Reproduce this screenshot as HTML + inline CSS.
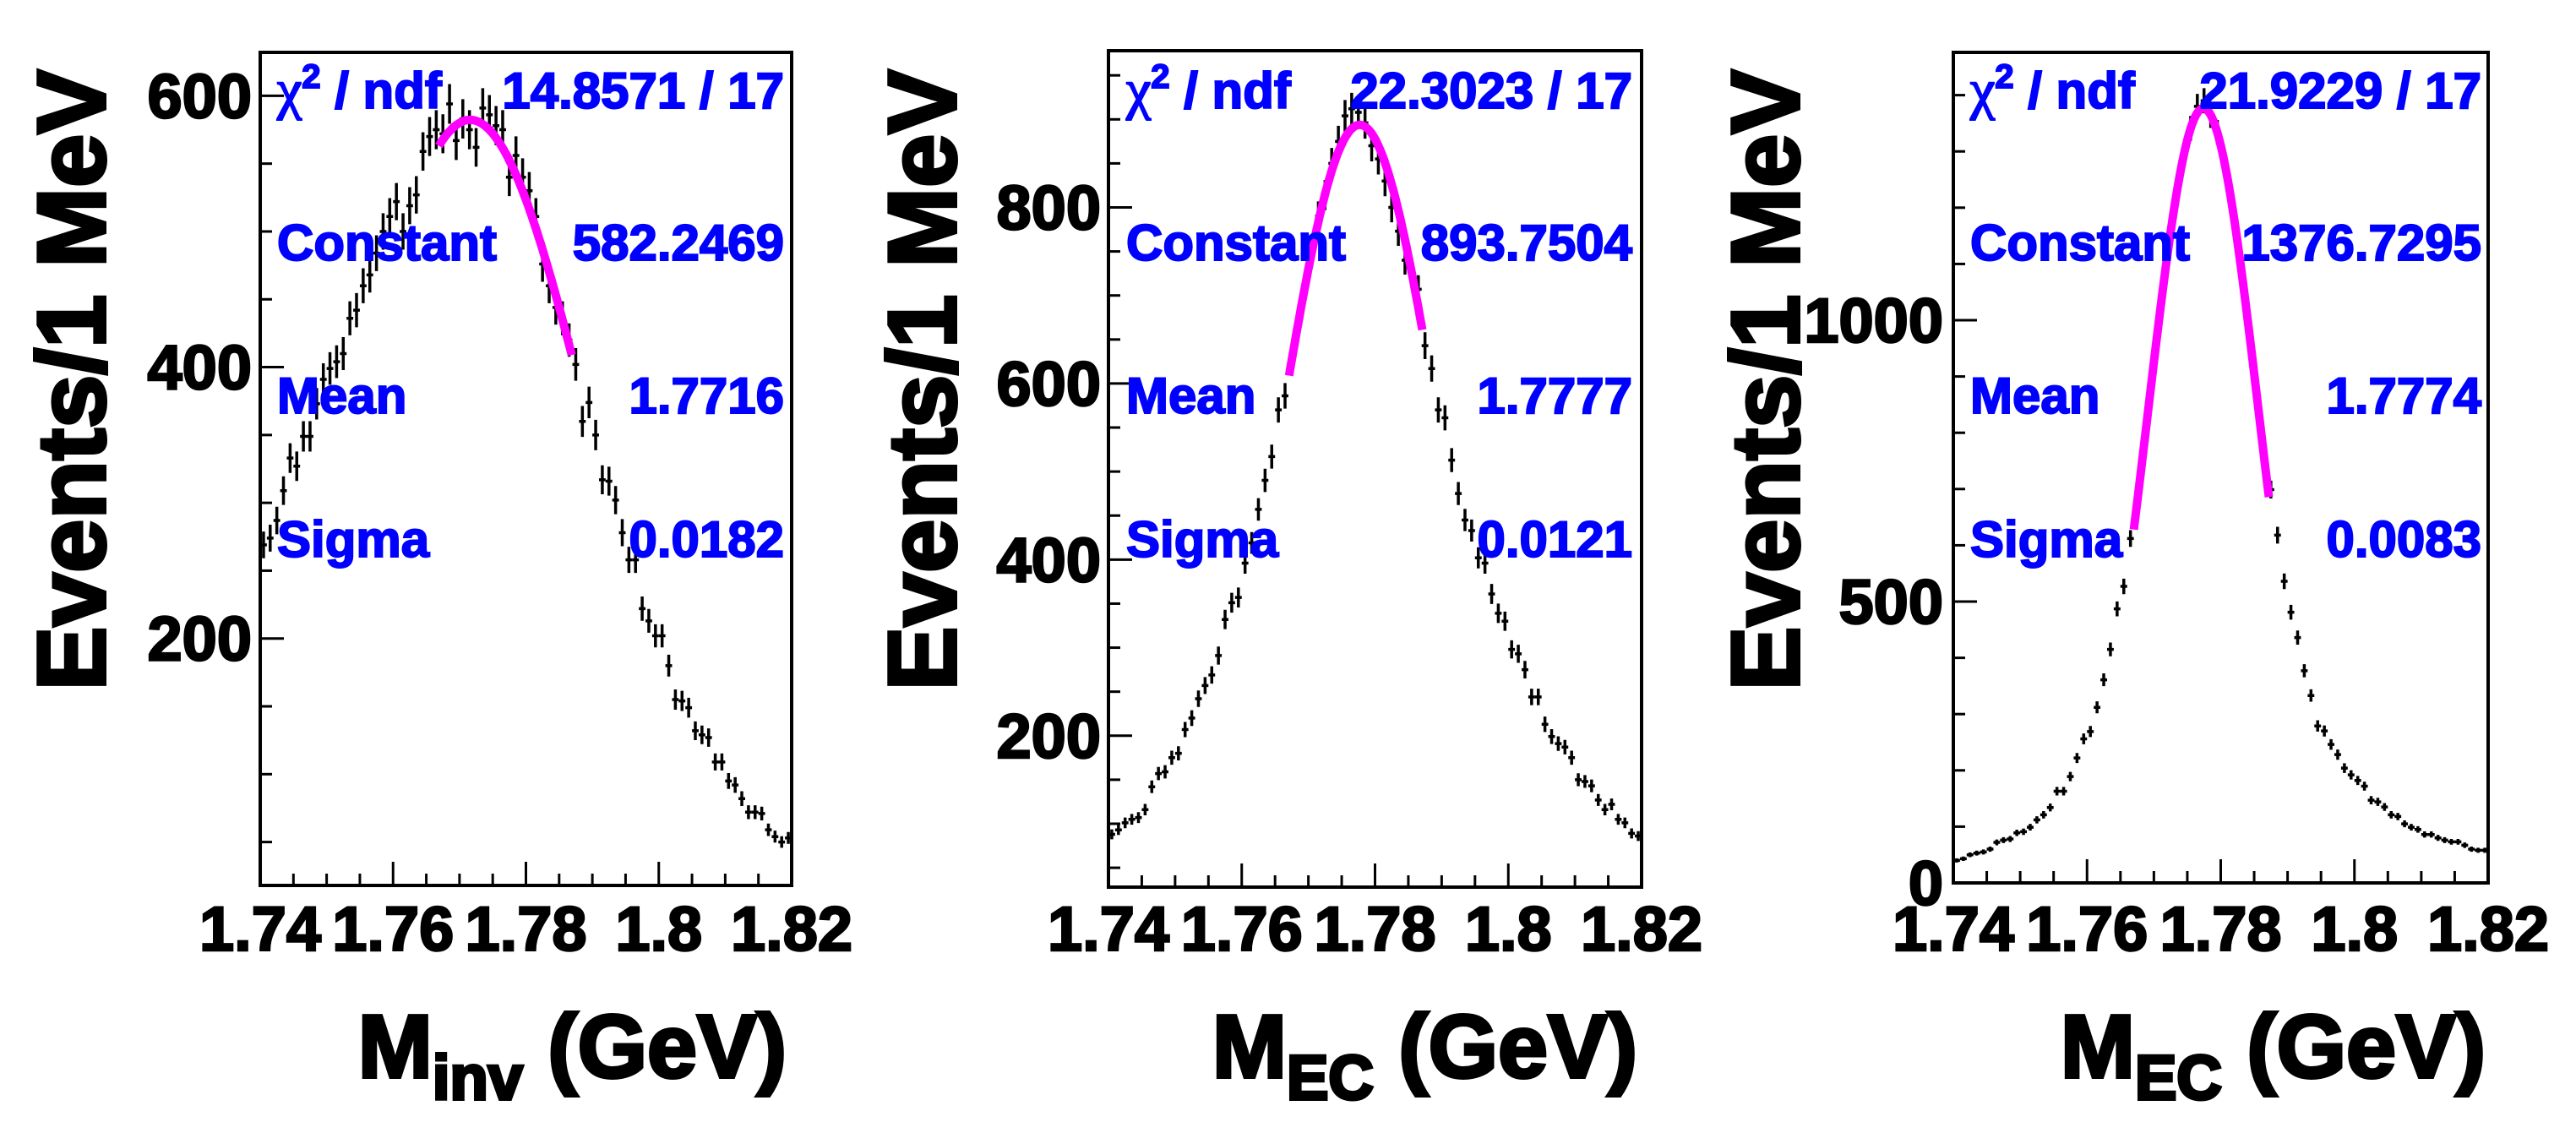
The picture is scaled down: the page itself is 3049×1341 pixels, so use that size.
<!DOCTYPE html>
<html><head><meta charset="utf-8"><style>
html,body{margin:0;padding:0;background:#fff;}
svg{display:block;}
text{font-family:"Liberation Sans",Arial,sans-serif;font-weight:bold;}
</style></head><body>
<svg id="fig" width="3049" height="1341" viewBox="0 0 3049 1341" xmlns="http://www.w3.org/2000/svg"></svg>
<script>
// Shared binning: 80 bins of 1 MeV from 1.74 to 1.82 GeV
const binLow = 1.74;
const binWidth = 0.001;
const xTicks = [1.74, 1.76, 1.78, 1.8, 1.82];
const xTickLabels = ["1.74", "1.76", "1.78", "1.8", "1.82"];

// Panel 1 (M_inv)
const counts1 = [269,274,287,309,333,327,349,349,373,391, 399,404,410,436,442,460,468,484,500,511,
  522,500,519,527,559,570,575,572,594,567, 583,575,562,591,586,578,575,540,556,540,
  530,511,476,460,444,436,420,402,360,374, 350,317,316,302,278,258,258,222,213,202,
  202,180,155,154,149,132,129,127,109,109, 95,92,82,72,72,71,59,54,50,53];
const fit1 = [582.2469, 1.7716, 0.0182];
const fitRange1 = [1.7669, 1.7869];
const yTicks1 = [200, 400, 600];
const stats1 = ["14.8571 / 17", "582.2469", "1.7716", "0.0182"];

// Panel 2 (M_EC)
const counts2 = [88,93,101,105,107,116,142,157,159,175, 180,207,220,242,257,269,291,332,351,357,
  396,419,457,490,517,570,586,627,669,710, 749,790,814,850,875,904,912,908,896,870,
  855,830,800,773,740,726,707,643,617,570, 561,513,475,445,433,402,396,361,339,330,
  298,293,275,244,244,213,199,191,187,175, 150,148,143,127,116,122,105,101,89,86];
const fit2 = [893.7504, 1.7777, 0.0121];
const fitRange2 = [1.7671, 1.7871];
const yTicks2 = [200, 400, 600, 800];
const stats2 = ["22.3023 / 17", "893.7504", "1.7777", "0.0121"];

// Panel 3 (M_EC)
const counts3 = [40,43,50,53,55,60,72,76,78,89, 91,99,112,121,134,163,163,189,222,256,
  269,312,361,415,487,527,612,676,775,875, 975,1069,1157,1233,1295,1341,1380,1390,1364,1334,
  1284,1219,1140,1051,955,855,755,699,618,536, 481,436,377,333,279,270,246,228,204,192,
  182,172,147,144,135,121,118,105,99,95, 86,86,80,76,73,73,67,60,58,58];
const fit3 = [1376.7295, 1.7774, 0.0083];
const fitRange3 = [1.767, 1.7872];
const yTicks3 = [0, 500, 1000];
const stats3 = ["21.9229 / 17", "1376.7295", "1.7774", "0.0083"];

const NS = "http://www.w3.org/2000/svg";
const svg = document.getElementById("fig");
function mk(tag, attrs, parent) {
  const e = document.createElementNS(NS, tag);
  for (const k in attrs) e.setAttribute(k, attrs[k]);
  (parent || svg).appendChild(e);
  return e;
}

const panels = [
  {counts: counts1, fit: fit1, fr: fitRange1, yt: yTicks1, stats: stats1, minor: 50,
   L:308, R:937, T:62, B:1048, ymin:18, ymax:632, ylabR:298, ytitleX:124, statL:328, statR:928,
   xtitleR:931, sub:"inv"},
  {counts: counts2, fit: fit2, fr: fitRange2, yt: yTicks2, stats: stats2, minor: 50,
   L:1312, R:1943, T:60, B:1050, ymin:28, ymax:978, ylabR:1303, ytitleX:1131, statL:1333, statR:1932,
   xtitleR:1938, sub:"EC"},
  {counts: counts3, fit: fit3, fr: fitRange3, yt: yTicks3, stats: stats3, minor: 100,
   L:2312, R:2945, T:62, B:1045, ymin:0, ymax:1476, ylabR:2300, ytitleX:2129, statL:2332, statR:2937,
   xtitleR:2942, sub:"EC"}
];

panels.forEach((p, pi) => {
  const g = mk("g", {});
  
  
  const sx = v => p.L + (v - binLow) / (binWidth * 80) * (p.R - p.L);
  const sy = v => p.B - (v - p.ymin) / (p.ymax - p.ymin) * (p.B - p.T);

  const frame = mk("rect", {x:p.L, y:p.T, width:p.R-p.L, height:p.B-p.T, fill:"none", stroke:"#000", "stroke-width":4}, g);
  
  

  for (let k = 0; k <= 16; k++) {
    const v = binLow + k * 0.005;
    const x = sx(v);
    const len = (k % 4 === 0) ? 28 : 14;
    const t = mk("line", {x1:x, x2:x, y1:p.B, y2:p.B-len, stroke:"#000", "stroke-width":3}, g);
    
    
  }
  xTicks.forEach((v, i) => {
    const t = mk("text", {x:sx(v), y:1125, "font-size":74, "text-anchor":"middle", fill:"#000", stroke:"#000", "stroke-width":2.5}, g);
    t.textContent = xTickLabels[i];
    
    
  });
  for (let v = 0; v <= p.ymax; v += p.minor) {
    if (v < p.ymin) continue;
    const y = sy(v);
    const major = p.yt.indexOf(v) >= 0;
    const t = mk("line", {x1:p.L, x2:p.L+(major?28:14), y1:y, y2:y, stroke:"#000", "stroke-width":3}, g);
    
    
  }
  p.yt.forEach(v => {
    const t = mk("text", {x:p.ylabR, y:sy(v)+26, "font-size":74, "text-anchor":"end", fill:"#000", stroke:"#000", "stroke-width":2.5}, g);
    t.textContent = String(v);
    
    
  });

  p.counts.forEach((c, i) => {
    const xc = sx(binLow + (i + 0.5) * binWidth);
    const hw = (sx(binWidth) - sx(0)) / 2;
    const e = 0.6 * Math.sqrt(c);
    const yTop = Math.max(sy(c + e), p.T), yBot = Math.min(sy(c - e), p.B);
    if (sy(c) < p.T || sy(c) > p.B) return;
    const pt = mk("path", {d:`M${xc},${yTop}V${yBot}M${xc-hw},${sy(c)}H${xc+hw}`, stroke:"#000", "stroke-width":3.5, fill:"none"}, g);
    
    
  });

  let d = "";
  const N = 100;
  for (let k = 0; k <= N; k++) {
    const v = p.fr[0] + (p.fr[1] - p.fr[0]) * k / N;
    const f = p.fit[0] * Math.exp(-0.5 * Math.pow((v - p.fit[1]) / p.fit[2], 2));
    d += (k ? "L" : "M") + sx(v).toFixed(1) + "," + sy(f).toFixed(1);
  }
  const fc = mk("path", {d:d, stroke:"#ff00ff", "stroke-width":10, fill:"none"}, g);
  
  

  const names = ["χ² / ndf", "Constant", "Mean", "Sigma"];
  const bl = [128, 308, 489, 659];
  names.forEach((n, i) => {
    const a = mk("text", {x:p.statL, y:bl[i], "font-size":60, fill:"#0000ff", stroke:"#0000ff", "stroke-width":2}, g);
    if (i === 0) {
      a.innerHTML = '<tspan font-weight="normal" font-family="Liberation Serif, serif" font-size="66">χ</tspan><tspan font-size="40" dy="-24">2</tspan><tspan dy="24"> / ndf</tspan>';
    } else a.textContent = n;
    
    
    const b = mk("text", {x:p.statR, y:bl[i], "font-size":60, "text-anchor":"end", fill:"#0000ff", stroke:"#0000ff", "stroke-width":2}, g);
    b.textContent = p.stats[i];
    
    
  });

  const yt = mk("text", {x:0, y:0, "font-size":114, "text-anchor":"middle", fill:"#000", stroke:"#000", "stroke-width":4,
    transform:`translate(${p.ytitleX},450) rotate(-90)`}, g);
  yt.textContent = "Events/1 MeV";
  
  
  const xt = mk("text", {x:p.xtitleR, y:1275, "font-size":106, "text-anchor":"end", fill:"#000", stroke:"#000", "stroke-width":4}, g);
  xt.innerHTML = 'M<tspan font-size="74" dy="26">' + p.sub + '</tspan><tspan dy="-26"> (GeV)</tspan>';
  
  
});
</script>
</body></html>
